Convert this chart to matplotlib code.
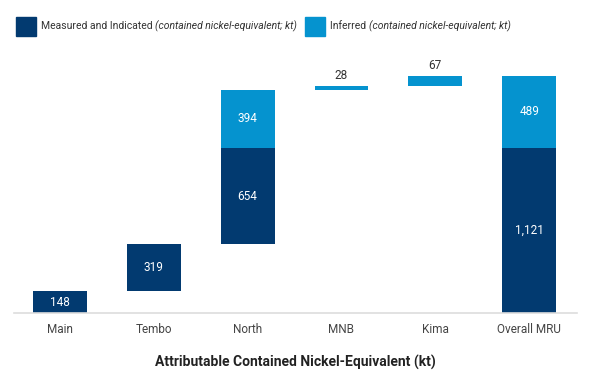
import matplotlib
matplotlib.use('Agg')
from matplotlib import pyplot as plt
from matplotlib.patches import Rectangle
import numpy as np

plt.rcParams['font.family'] = ['Roboto', 'DejaVu Sans']

categories = ['Main', 'Tembo', 'North', 'MNB', 'Kima', 'Overall MRU']
measured = [148, 319, 654, 0, 0, 1121]
inferred = [0, 0, 394, 28, 67, 489]
is_total = [False, False, False, False, False, True]

dark = '#023a70'
light = '#0593cf'

measured = np.array(measured)
inferred = np.array(inferred)
steps = measured + inferred
# waterfall base: running total of previous steps, totals start at zero
base = np.concatenate([[0], np.cumsum(steps)[:-1]])
base = np.where(is_total, 0, base)

fig = plt.figure(figsize=(5.98, 3.82), dpi=100)
ax = fig.add_axes([14 / 598, 1 - 313 / 382, 563 / 598, 265 / 382])

x = np.arange(len(categories))
w = 0.575
ax.bar(x, measured, w, bottom=base, color=dark, zorder=2)
ax.bar(x, inferred, w, bottom=base + measured, color=light, zorder=2)

for i in range(len(categories)):
    if measured[i] > 0:
        ax.text(x[i], base[i] + measured[i] / 2, f'{measured[i]:,}', ha='center', va='center',
                color='white', fontsize=8.5)
    if inferred[i] > 0:
        if inferred[i] > 150:
            ax.text(x[i], base[i] + measured[i] + inferred[i] / 2, f'{inferred[i]:,}',
                    ha='center', va='center', color='white', fontsize=8.5)
        else:
            ax.text(x[i], base[i] + measured[i] + inferred[i] + 25, f'{inferred[i]:,}',
                    ha='center', va='bottom', color='#333333', fontsize=8.5)

ax.set_xlim(-0.49, 5.51)
ax.set_ylim(0, 1800)
for s in ['top', 'right', 'left']:
    ax.spines[s].set_visible(False)
ax.spines['bottom'].set_color('#dddddd')
ax.spines['bottom'].set_linewidth(1.2)
ax.set_yticks([])
ax.set_xticks(x)
ax.set_xticklabels(categories, fontsize=8.5, color='#444444')
ax.tick_params(axis='x', length=0, pad=7)
ax.set_xlabel('Attributable Contained Nickel-Equivalent (kt)', fontsize=10,
              fontweight='bold', color='#222222', labelpad=14)

# legend drawn by hand: regular text followed by italic part
fig.patches.append(Rectangle((16 / 598, 1 - 36 / 382), 20 / 598, 19 / 382,
                             transform=fig.transFigure, color=dark))
fig.patches.append(Rectangle((305 / 598, 1 - 36 / 382), 20 / 598, 19 / 382,
                             transform=fig.transFigure, color=light))

renderer = fig.canvas.get_renderer()
ty = 1 - 26 / 382
for x0, normal, italic in [(41, 'Measured and Indicated ', '(contained nickel-equivalent; kt)'),
                           (330, 'Inferred ', '(contained nickel-equivalent; kt)')]:
    t = fig.text(x0 / 598, ty, normal, fontsize=7.5, color='#333333', va='center')
    bb = t.get_window_extent(renderer)
    fig.text(bb.x1 / fig.bbox.width, ty, italic, fontsize=7.5, color='#333333',
             va='center', style='italic')

fig.savefig('out.png', dpi=100)
